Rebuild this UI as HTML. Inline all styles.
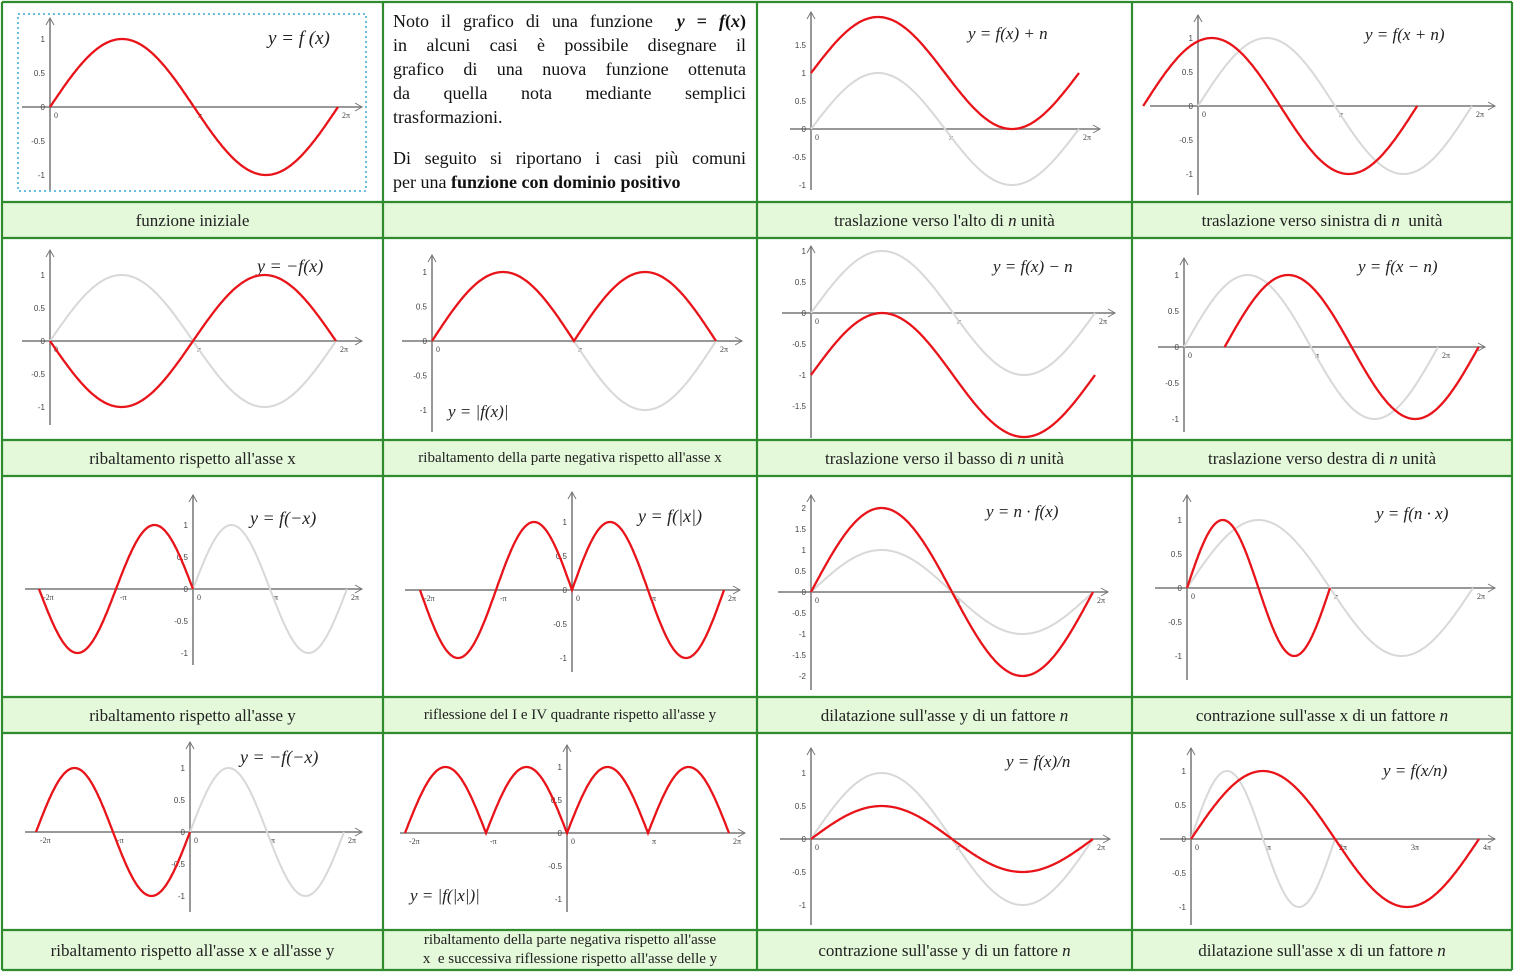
<!DOCTYPE html>
<html><head><meta charset="utf-8"><style>
body{margin:0;background:#fff;width:1520px;height:979px;overflow:hidden;position:relative;font-family:"Liberation Serif",serif}
svg{position:absolute;left:0;top:0}
.lab{position:absolute;text-align:center;font-size:17px;color:#222;display:flex;align-items:center;justify-content:center;line-height:19px}
.txt{position:absolute;left:393px;top:9px;width:353px;font-size:18px;line-height:24px;color:#111}
.txt div.j{text-align:justify;text-align-last:justify;white-space:nowrap;height:24px}
.txt div.l{height:24px;white-space:nowrap}
</style></head><body>
<svg id="s" width="1520" height="979" xmlns="http://www.w3.org/2000/svg">
<rect x="2" y="202" width="1510" height="36" fill="#e4f8da"/>
<rect x="2" y="440" width="1510" height="36" fill="#e4f8da"/>
<rect x="2" y="697" width="1510" height="36" fill="#e4f8da"/>
<rect x="2" y="930" width="1510" height="40" fill="#e4f8da"/>
<g stroke="#2e8b2e" stroke-width="2.2" fill="none">
<line x1="2" y1="2" x2="1512" y2="2"/><line x1="2" y1="202" x2="1512" y2="202"/><line x1="2" y1="238" x2="1512" y2="238"/>
<line x1="2" y1="440" x2="1512" y2="440"/><line x1="2" y1="476" x2="1512" y2="476"/><line x1="2" y1="697" x2="1512" y2="697"/>
<line x1="2" y1="733" x2="1512" y2="733"/><line x1="2" y1="930" x2="1512" y2="930"/><line x1="2" y1="970" x2="1512" y2="970"/>
<line x1="2" y1="2" x2="2" y2="970"/><line x1="383" y1="2" x2="383" y2="970"/><line x1="757" y1="2" x2="757" y2="970"/>
<line x1="1132" y1="2" x2="1132" y2="970"/><line x1="1512" y1="2" x2="1512" y2="970"/>
</g>
<rect x="18" y="14" width="348" height="177" fill="none" stroke="#39a9d8" stroke-width="1.5" stroke-dasharray="2,3"/>
<g font-family="Liberation Serif,serif" font-style="italic" font-size="19" fill="#222">
<text x="268" y="44">y = f (x)</text>
<text x="968" y="39" font-size="17">y = f(x) + n</text>
<text x="1365" y="40" font-size="17">y = f(x + n)</text>
<text x="257" y="272" font-size="18">y = −f(x)</text>
<text x="448" y="417" font-size="17">y = |f(x)|</text>
<text x="993" y="272" font-size="17">y = f(x) − n</text>
<text x="1358" y="272" font-size="17">y = f(x − n)</text>
<text x="250" y="524" font-size="18">y = f(−x)</text>
<text x="638" y="522" font-size="18">y = f(|x|)</text>
<text x="986" y="517" font-size="17">y = n · f(x)</text>
<text x="1376" y="519" font-size="17">y = f(n · x)</text>
<text x="240" y="763" font-size="18">y = −f(−x)</text>
<text x="410" y="901" font-size="17">y = |f(|x|)|</text>
<text x="1006" y="767" font-size="17">y = f(x)/n</text>
<text x="1383" y="776" font-size="17">y = f(x/n)</text>
</g>
<g id="g"></g>
</svg>
<div class="txt">
<div class="j">Noto il grafico di una funzione &nbsp;<b><i>y</i> = <i>f</i>(<i>x</i>)</b></div>
<div class="j">in alcuni casi è possibile disegnare il</div>
<div class="j">grafico di una nuova funzione ottenuta</div>
<div class="j">da quella nota mediante semplici</div>
<div class="l">trasformazioni.</div>
<div style="height:17px"></div>
<div class="j">Di seguito si riportano i casi più comuni</div>
<div class="l">per una <b>funzione con dominio positivo</b></div>
</div>
<div class="lab" style="left:2px;top:202px;width:381px;height:36px">funzione iniziale</div>
<div class="lab" style="left:757px;top:202px;width:375px;height:36px">traslazione verso l'alto di&nbsp;<i>n</i>&nbsp;unità</div>
<div class="lab" style="left:1132px;top:202px;width:380px;height:36px">traslazione verso sinistra di&nbsp; <i>n</i>&nbsp; unità</div>
<div class="lab" style="left:2px;top:440px;width:381px;height:36px">ribaltamento rispetto all'asse x</div>
<div class="lab" style="left:383px;top:440px;width:374px;height:36px;font-size:15px">ribaltamento della parte negativa rispetto all'asse x</div>
<div class="lab" style="left:757px;top:440px;width:375px;height:36px">traslazione verso il basso di&nbsp; <i>n</i>&nbsp;unità</div>
<div class="lab" style="left:1132px;top:440px;width:380px;height:36px">traslazione verso destra di&nbsp;<i>n</i>&nbsp;unità</div>
<div class="lab" style="left:2px;top:697px;width:381px;height:36px">ribaltamento rispetto all'asse y</div>
<div class="lab" style="left:383px;top:697px;width:374px;height:36px;font-size:15px">riflessione del I e IV quadrante rispetto all'asse y</div>
<div class="lab" style="left:757px;top:697px;width:375px;height:36px">dilatazione sull'asse y di un fattore&nbsp; <i>n</i></div>
<div class="lab" style="left:1132px;top:697px;width:380px;height:36px">contrazione sull'asse x di un fattore&nbsp; <i>n</i></div>
<div class="lab" style="left:2px;top:930px;width:381px;height:40px">ribaltamento rispetto all'asse x e all'asse y</div>
<div class="lab" style="left:383px;top:930px;width:374px;height:40px;font-size:15px">ribaltamento della parte negativa rispetto all'asse<br>x&nbsp; e successiva riflessione rispetto all'asse delle y</div>
<div class="lab" style="left:757px;top:930px;width:375px;height:40px">contrazione sull'asse y di un fattore&nbsp; <i>n</i></div>
<div class="lab" style="left:1132px;top:930px;width:380px;height:40px">dilatazione sull'asse x di un fattore&nbsp; <i>n</i></div>
<script>
const P=Math.PI,S=Math.sin;
const panels=[
{ox:50,oy:107,sx:144,sy:68,xl:22,xr:362,yt:18,yb:190,red:[S,0,2*P]},
{ox:811,oy:129,sx:134,sy:56,xl:790,xr:1100,yt:12,yb:190,red:[x=>S(x)+1,0,2*P],gray:[S,0,2*P],yl:[1.5,1,0.5,0,-0.5,-1]},
{ox:1198,oy:106,sx:137,sy:68,xl:1150,xr:1495,yt:15,yb:195,red:[x=>S(x+0.4*P),-0.4*P,1.6*P],gray:[S,0,2*P]},
{ox:50,oy:341,sx:143,sy:66,xl:22,xr:362,yt:250,yb:425,red:[x=>-S(x),0,2*P],gray:[S,0,2*P]},
{ox:432,oy:341,sx:142,sy:69,xl:402,xr:742,yt:255,yb:432,red:[x=>Math.abs(S(x)),0,2*P],gray:[S,0,2*P]},
{ox:811,oy:313,sx:142,sy:62,xl:782,xr:1115,yt:246,yb:438,red:[x=>S(x)-1,0,2*P],gray:[S,0,2*P],yl:[1,0.5,0,-0.5,-1,-1.5]},
{ox:1184,oy:347,sx:127,sy:72,xl:1158,xr:1485,yt:258,yb:432,red:[x=>S(x-0.32*P),0.32*P,2.32*P],gray:[S,0,2*P]},
{ox:193,oy:589,sx:77,sy:64,xl:25,xr:362,yt:495,yb:665,red:[x=>S(-x),-2*P,0],gray:[S,0,2*P],neg:1},
{ox:572,oy:590,sx:76,sy:68,xl:405,xr:740,yt:492,yb:672,red:[x=>S(Math.abs(x)),-2*P,2*P],neg:1},
{ox:811,oy:592,sx:141,sy:42,xl:778,xr:1108,yt:495,yb:690,red:[x=>2*S(x),0,2*P],gray:[S,0,2*P],yl:[2,1.5,1,0.5,0,-0.5,-1,-1.5,-2]},
{ox:1187,oy:588,sx:143,sy:68,xl:1155,xr:1495,yt:495,yb:680,red:[x=>S(2*x),0,P],gray:[S,0,2*P]},
{ox:190,oy:832,sx:77,sy:64,xl:25,xr:362,yt:742,yb:912,red:[S,-2*P,0],gray:[S,0,2*P],neg:1},
{ox:567,oy:833,sx:81,sy:66,xl:400,xr:745,yt:745,yb:912,red:[x=>Math.abs(S(Math.abs(x))),-2*P,2*P],neg:1},
{ox:811,oy:839,sx:141,sy:66,xl:780,xr:1110,yt:748,yb:925,red:[x=>S(x)/2,0,2*P],gray:[S,0,2*P]},
{ox:1191,oy:839,sx:72,sy:68,xl:1160,xr:1495,yt:748,yb:925,red:[x=>S(x/2),0,4*P],gray:[S,0,2*P],x4:1}
];
let h='';
function path(f,a,b,p){let d='';for(let i=0;i<=300;i++){const x=a+(b-a)*i/300;const X=p.ox+x/P*p.sx,Y=p.oy-f(x)*p.sy;d+=(i?'L':'M')+X.toFixed(1)+' '+Y.toFixed(1);}return d;}
for(const p of panels){
 h+=`<line x1="${p.xl}" y1="${p.oy}" x2="${p.xr}" y2="${p.oy}" stroke="#777" stroke-width="1.5"/><path d="M${p.xr-7} ${p.oy-4}L${p.xr} ${p.oy}L${p.xr-7} ${p.oy+4}" stroke="#777" fill="none"/>`;
 h+=`<line x1="${p.ox}" y1="${p.yt}" x2="${p.ox}" y2="${p.yb}" stroke="#777" stroke-width="1.5"/><path d="M${p.ox-4} ${p.yt+7}L${p.ox} ${p.yt}L${p.ox+4} ${p.yt+7}" stroke="#777" fill="none"/>`;
 const yl=p.yl||[1,0.5,0,-0.5,-1];
 for(const v of yl){h+=`<text x="${p.ox-5}" y="${p.oy-v*p.sy+3}" font-size="8" fill="#444" text-anchor="end" font-family="Liberation Sans">${v}</text>`;}
 const xs=p.x4?[[0,'0'],[1,'π'],[2,'2π'],[3,'3π'],[4,'4π']]:p.neg?[[-2,'-2π'],[-1,'-π'],[0,'0'],[1,'π'],[2,'2π']]:[[0,'0'],[1,'π'],[2,'2π']];
 for(const [k,t] of xs){h+=`<text x="${p.ox+k*p.sx+4}" y="${p.oy+11}" font-size="8" fill="#444" font-family="Liberation Serif">${t}</text>`;}
 if(p.gray)h+=`<path d="${path(p.gray[0],p.gray[1],p.gray[2],p)}" stroke="#d8d8d8" stroke-width="2" fill="none"/>`;
 h+=`<path d="${path(p.red[0],p.red[1],p.red[2],p)}" stroke="#e8141a" stroke-width="2.3" fill="none"/>`;
}
document.getElementById('g').innerHTML=h;
</script>
</body></html>
